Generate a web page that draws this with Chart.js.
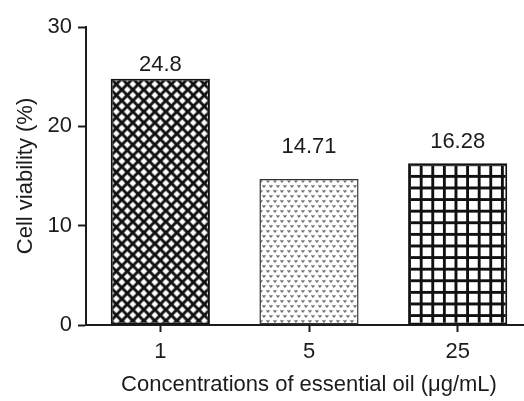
<!DOCTYPE html>
<html>
<head>
<meta charset="utf-8">
<script src="https://cdn.jsdelivr.net/npm/chart.js@4"></script>
<style>
  html, body { margin: 0; padding: 0; background: #fff; overflow: hidden; }
  #wrap { width: 532px; height: 401px; position: relative; }
</style>
</head>
<body>
<div id="wrap"><canvas id="c"></canvas></div>
<script>
// ---- data ----
const categories = ['1', '5', '25'];
const viability = [24.8, 14.71, 16.28];
const valueLabels = ['24.8', '14.71', '16.28'];
const yTicks = [0, 10, 20, 30];
const xTitle = 'Concentrations of essential oil (\u03bcg/mL)';
const yTitle = 'Cell viability (%)';

// ---- style ----
const FONT = '"Liberation Sans", Arial, Helvetica, sans-serif';
const FS = 22;
const INK = '#1c1c1c';
const labelGaps = [8, 26, 15];

function makeTile(w, h, draw) {
  const c = document.createElement('canvas');
  c.width = w; c.height = h;
  const g = c.getContext('2d');
  g.fillStyle = '#fff';
  g.fillRect(0, 0, w, h);
  draw(g, w, h);
  return document.createElement('canvas').getContext('2d').createPattern(c, 'repeat');
}

const crossHatch = makeTile(11, 11, (g, w, h) => {
  g.strokeStyle = '#111';
  g.lineWidth = 3;
  for (let k = -1; k <= 1; k++) {
    g.beginPath(); g.moveTo(k * w, 0); g.lineTo(k * w + w, h); g.stroke();
    g.beginPath(); g.moveTo(k * w + w, 0); g.lineTo(k * w, h); g.stroke();
  }
});

const stipple = makeTile(7, 10, (g) => {
  const dot = (x, y, c) => { g.fillStyle = c; g.fillRect(x, y, 1, 1); };
  const motif = (x, y) => {
    dot(x, y, '#444'); dot(x + 2, y, '#444');
    dot(x + 1, y + 1, '#333'); dot(x + 1, y + 2, '#777');
    dot(x, y + 1, '#aaa'); dot(x + 2, y + 1, '#aaa');
  };
  motif(0, 1);
  motif(3, 6);
});

const gridPat = makeTile(12, 12, (g, w, h) => {
  g.fillStyle = '#111';
  g.fillRect(0, 0, 3, h);
  g.fillRect(0, 0, w, 3);
});

const patterns = [crossHatch, stipple, gridPat];
const patScale = [1, 1, 11.6 / 12];

const alignPatterns = {
  id: 'alignPatterns',
  beforeDatasetsDraw(chart) {
    const meta = chart.getDatasetMeta(0);
    meta.data.forEach((el, i) => {
      const left = el.x - el.width / 2;
      const top = el.y;
      const m = new DOMMatrix().translate(left, top).scale(patScale[i], patScale[i]);
      patterns[i].setTransform(m);
    });
  }
};

const valueLabelPlugin = {
  id: 'valueLabels',
  afterDatasetsDraw(chart) {
    const ctx = chart.ctx;
    const meta = chart.getDatasetMeta(0);
    ctx.save();
    ctx.font = FS + 'px ' + FONT;
    ctx.fillStyle = INK;
    ctx.textAlign = 'center';
    ctx.textBaseline = 'alphabetic';
    meta.data.forEach((el, i) => {
      ctx.fillText(valueLabels[i], el.x, el.y - labelGaps[i]);
    });
    ctx.restore();
  }
};

new Chart(document.getElementById('c'), {
  type: 'bar',
  data: {
    labels: categories,
    datasets: [{
      data: viability,
      backgroundColor: patterns,
      borderColor: ['#111', '#333', '#111'],
      borderWidth: [2, 1.5, 2],
      borderSkipped: false,
      barPercentage: 0.667,
      categoryPercentage: 1
    }]
  },
  options: {
    responsive: true,
    maintainAspectRatio: false,
    animation: false,
    devicePixelRatio: 1,
    layout: { padding: { top: 27, right: 0, bottom: 0, left: 0 } },
    plugins: { legend: { display: false }, tooltip: { enabled: false } },
    scales: {
      x: {
        offset: true,
        grid: { display: true, drawOnChartArea: false, offset: false, tickLength: 7, tickWidth: 2, tickColor: INK },
        border: { display: true, color: INK, width: 2 },
        ticks: { color: INK, font: { family: FONT, size: FS }, padding: 7, maxRotation: 0 },
        title: { display: true, text: xTitle, color: INK, font: { family: FONT, size: FS }, padding: { top: 4, bottom: 3 } },
        afterFit(s) { s.height = 76; }
      },
      y: {
        min: 0, max: 30,
        afterBuildTicks(s) { s.ticks = yTicks.map(v => ({ value: v })); },
        grid: { display: true, drawOnChartArea: false, tickLength: 8, tickWidth: 2, tickColor: INK },
        border: { display: true, color: INK, width: 2 },
        ticks: { color: INK, font: { family: FONT, size: FS }, padding: 6 },
        title: { display: true, text: yTitle, color: INK, font: { family: FONT, size: FS }, padding: { top: 13, bottom: 2 } },
        afterFit(s) { s.width = 86; }
      }
    }
  },
  plugins: [alignPatterns, valueLabelPlugin]
});
</script>
</body>
</html>
